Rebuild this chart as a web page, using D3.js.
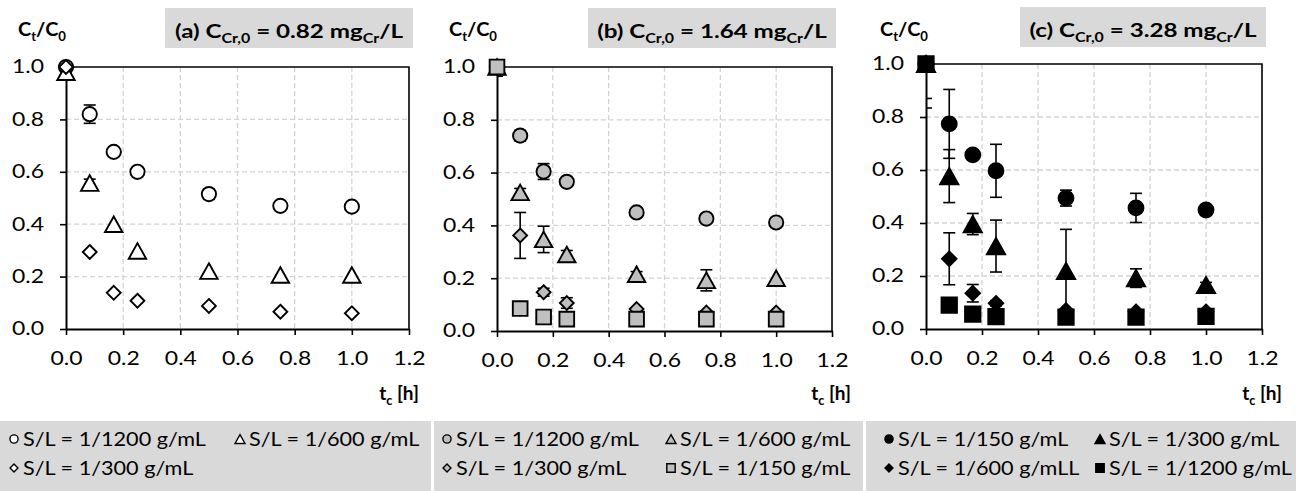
<!DOCTYPE html>
<html><head><meta charset="utf-8">
<script src="https://cdn.jsdelivr.net/npm/d3@7"></script>
<style>html,body{margin:0;padding:0;background:#fff;} svg{display:block}</style>
</head><body>
<svg id="chart" width="1296" height="491"></svg>
<script>
// Sampling times [h] and axis ticks
const times = [0, 0.083, 0.167, 0.25, 0.5, 0.75, 1.0];
const xTicks = [0, 0.2, 0.4, 0.6, 0.8, 1.0, 1.2];
const yTicks = [0, 0.2, 0.4, 0.6, 0.8, 1.0];
const xGrid = [0.2, 0.4, 0.6, 0.8, 1.0];
const yGrid = [0.2, 0.4, 0.6, 0.8];

// (a) C_Cr,0 = 0.82 mg/L
const a1200 = [1.0, 0.82, 0.676, 0.60, 0.515, 0.47, 0.467];
const a1200Err = [0, 0.035, 0, 0, 0.02, 0, 0];
const a600 = [0.98, 0.557, 0.40, 0.298, 0.221, 0.206, 0.206];
const a600Err = [0.025, 0.015, 0, 0, 0, 0, 0];
const a300 = [1.0, 0.294, 0.138, 0.108, 0.088, 0.066, 0.06];
const a300Err = [0, 0, 0, 0, 0, 0, 0];

// (b) C_Cr,0 = 1.64 mg/L
const b1200 = [1.0, 0.74, 0.604, 0.565, 0.449, 0.426, 0.411];
const b1200Err = [0, 0.02, 0.03, 0, 0, 0, 0];
const b600 = [1.0, 0.525, 0.347, 0.29, 0.215, 0.192, 0.20];
const b600Err = [0.035, 0.015, 0.05, 0.015, 0.01, 0.04, 0];
const b300 = [1.0, 0.362, 0.147, 0.106, 0.083, 0.07, 0.07];
const b300Err = [0, 0.087, 0.015, 0.02, 0, 0, 0];
const b150 = [1.0, 0.085, 0.053, 0.045, 0.045, 0.045, 0.045];
const b150Err = [0, 0, 0, 0, 0, 0, 0];

// (c) C_Cr,0 = 3.28 mg/L
const c150 = [1.0, 0.774, 0.657, 0.597, 0.494, 0.457, 0.449];
const c150Err = [0.13, 0.13, 0.01, 0.1, 0.03, 0.055, 0];
const c300 = [1.0, 0.577, 0.396, 0.313, 0.219, 0.192, 0.166];
const c300Err = [0.166, 0.1, 0.04, 0.098, 0.157, 0.035, 0.01];
const c600 = [1.0, 0.265, 0.135, 0.097, 0.07, 0.065, 0.065];
const c600Err = [0, 0.098, 0.033, 0.01, 0, 0, 0];
const c1200 = [1.0, 0.09, 0.056, 0.047, 0.045, 0.045, 0.048];
const c1200Err = [0, 0, 0, 0, 0, 0, 0];

const FONT = "Lato, 'Open Sans', sans-serif";
const BOX = "#d9d9d9";
// font size and horizontal stretch per text role
const FS_TICK = 18.5, SX_TICK = 1.24;
const FS_TITLE = 19.5, SX_TITLE = 1.24;
const FS_YLAB = 19, SX_YLAB = 1.05;
const FS_XLAB = 19, SX_XLAB = 1.0;
const FS_LEG = 19, SX_LEG = 1.14;

const panels = [
  {
    title: ["(a) C", {sub: "Cr,0"}, " = 0.82 mg", {sub: "Cr"}, "/L"],
    titleBox: [165, 8, 248, 40],
    yLabelX: 18, xLabelRight: 419,
    plot: {x0: 66, x1: 409, y0: 67, y1: 329},
    fill: "#ffffff", scale: 1.05,
    legendBox: [0, 421, 431, 70],
    series: [
      {label: "S/L = 1/1200 g/mL", shape: "circle", values: a1200, err: a1200Err, lx: 14, row: 0},
      {label: "S/L = 1/600 g/mL", shape: "triangle", values: a600, err: a600Err, lx: 240, row: 0},
      {label: "S/L = 1/300 g/mL", shape: "diamond", values: a300, err: a300Err, lx: 14, row: 1}
    ]
  },
  {
    title: ["(b) C", {sub: "Cr,0"}, " = 1.64 mg", {sub: "Cr"}, "/L"],
    titleBox: [588, 8, 248, 40],
    yLabelX: 449, xLabelRight: 851,
    plot: {x0: 497, x1: 832, y0: 67, y1: 331},
    fill: "#bfbfbf", scale: 1.05,
    legendBox: [434, 421, 429, 70],
    series: [
      {label: "S/L = 1/1200 g/mL", shape: "circle", values: b1200, err: b1200Err, lx: 447, row: 0},
      {label: "S/L = 1/600 g/mL", shape: "triangle", values: b600, err: b600Err, lx: 671, row: 0},
      {label: "S/L = 1/300 g/mL", shape: "diamond", values: b300, err: b300Err, lx: 447, row: 1},
      {label: "S/L = 1/150 g/mL", shape: "square", values: b150, err: b150Err, lx: 671, row: 1}
    ]
  },
  {
    title: ["(c) C", {sub: "Cr,0"}, " = 3.28 mg", {sub: "Cr"}, "/L"],
    titleBox: [1020, 7, 246, 40],
    yLabelX: 880, xLabelRight: 1282,
    plot: {x0: 926, x1: 1262, y0: 64, y1: 329},
    fill: "#000000", scale: 1.1,
    legendBox: [866, 421, 430, 70],
    series: [
      {label: "S/L = 1/150 g/mL", shape: "circle", values: c150, err: c150Err, lx: 889, row: 0},
      {label: "S/L = 1/300 g/mL", shape: "triangle", values: c300, err: c300Err, lx: 1100, row: 0},
      {label: "S/L = 1/600 g/mLL", shape: "diamond", values: c600, err: c600Err, lx: 889, row: 1},
      {label: "S/L = 1/1200 g/mL", shape: "square", values: c1200, err: c1200Err, lx: 1100, row: 1}
    ]
  }
];

const svg = d3.select("#chart");

// Text with subscripts and a horizontal stretch
function richText(parent, x, y, parts, size, weight, anchor, sx) {
  const t = parent.append("text")
    .attr("transform", `translate(${x},${y}) scale(${sx},1)`)
    .attr("text-anchor", anchor)
    .style("font-family", FONT)
    .style("font-size", size + "px")
    .style("font-weight", weight)
    .attr("fill", "#000");
  const shift = size * 0.25;
  let down = false;
  parts.forEach(p => {
    if (typeof p === "string") {
      const s = t.append("tspan").text(p);
      if (down) { s.attr("dy", -shift); down = false; }
    } else {
      t.append("tspan").text(p.sub)
        .attr("dy", down ? 0 : shift)
        .style("font-size", (size * 0.66) + "px");
      down = true;
    }
  });
  return t;
}

// Marker outline for each shape, centred on (0,0)
function shapePath(shape, k) {
  const p = d3.path();
  if (shape === "circle") {
    const r = 6.8 * k;
    p.moveTo(r, 0); p.arc(0, 0, r, 0, 2 * Math.PI);
  } else if (shape === "triangle") {
    const w = 8.3 * k, h = 7.4 * k;
    p.moveTo(0, -h); p.lineTo(w, h); p.lineTo(-w, h); p.closePath();
  } else if (shape === "diamond") {
    const r = 6.6 * k;
    p.moveTo(0, -r); p.lineTo(r, 0); p.lineTo(0, r); p.lineTo(-r, 0); p.closePath();
  } else {
    const s = 7 * k;
    p.rect(-s, -s, 2 * s, 2 * s);
  }
  return p.toString();
}

panels.forEach((pn, pi) => {
  const g = svg.append("g");
  const {x0, x1, y0, y1} = pn.plot;
  const x = d3.scaleLinear().domain([0, 1.2]).range([x0, x1]);
  const y = d3.scaleLinear().domain([0, 1.0]).range([y1, y0]);

  // title box
  const tb = pn.titleBox;
  g.append("rect").attr("x", tb[0]).attr("y", tb[1]).attr("width", tb[2]).attr("height", tb[3]).attr("fill", BOX);
  richText(g, tb[0] + tb[2] / 2, tb[1] + 30, pn.title, FS_TITLE, 700, "middle", SX_TITLE);

  // y-axis title
  richText(g, pn.yLabelX, 36, ["C", {sub: "t"}, "/C", {sub: "0"}], FS_YLAB, 700, "start", SX_YLAB);

  // grid
  g.append("g").selectAll("line").data(xGrid).join("line")
    .attr("x1", d => x(d)).attr("x2", d => x(d)).attr("y1", y0).attr("y2", y1)
    .attr("stroke", "#d4d4d4").attr("stroke-width", 1.3).attr("stroke-dasharray", "5,3");
  g.append("g").selectAll("line").data(yGrid).join("line")
    .attr("x1", x0).attr("x2", x1).attr("y1", d => y(d)).attr("y2", d => y(d))
    .attr("stroke", "#d4d4d4").attr("stroke-width", 1.3).attr("stroke-dasharray", "5,3");

  // error bars, clipped to the plot area
  const clipId = "clip" + pi;
  g.append("clipPath").attr("id", clipId).append("rect")
    .attr("x", x0).attr("y", y0).attr("width", x1 - x0).attr("height", y1 - y0);
  const eg = g.append("g").attr("clip-path", `url(#${clipId})`);
  pn.series.forEach(s => {
    const pts = times.map((t, i) => ({t, v: s.values[i], e: s.err[i]})).filter(d => d.e > 0);
    pts.forEach(d => {
      const cx = x(d.t);
      eg.append("line").attr("x1", cx).attr("x2", cx).attr("y1", y(d.v + d.e)).attr("y2", y(d.v - d.e))
        .attr("stroke", "#000").attr("stroke-width", 1.6);
      [d.v + d.e, d.v - d.e].forEach(v => {
        eg.append("line").attr("x1", cx - 6).attr("x2", cx + 6).attr("y1", y(v)).attr("y2", y(v))
          .attr("stroke", "#000").attr("stroke-width", 1.6);
      });
    });
  });

  // frame (top and right)
  g.append("path").attr("d", `M${x0},${y0}H${x1}V${y1}`).attr("fill", "none").attr("stroke", "#000").attr("stroke-width", 1.6);

  // axes
  const ya = g.append("g").attr("transform", `translate(${x0},0)`)
    .call(d3.axisLeft(y).tickValues(yTicks).tickFormat(d3.format(".1f")).tickSize(6).tickSizeOuter(0));
  const xa = g.append("g").attr("transform", `translate(0,${y1})`)
    .call(d3.axisBottom(x).tickValues(xTicks).tickFormat(d3.format(".1f")).tickSize(6).tickSizeOuter(0));
  [ya, xa].forEach(a => {
    a.select(".domain").attr("stroke", "#000").attr("stroke-width", 2);
    a.selectAll(".tick line").attr("stroke", "#000").attr("stroke-width", 1.6);
    a.selectAll("text").style("font-family", FONT).style("font-size", FS_TICK + "px").attr("fill", "#000");
  });
  ya.selectAll("text").attr("x", -22 / SX_TICK).attr("transform", `scale(${SX_TICK},1)`);
  xa.selectAll("text").attr("y", 23).attr("transform", `scale(${SX_TICK},1)`);

  // x-axis title
  richText(g, pn.xLabelRight, 400, ["t", {sub: "c"}, " [h]"], FS_XLAB, 700, "end", SX_XLAB);

  // markers
  pn.series.forEach(s => {
    g.append("g").selectAll("path").data(times.map((t, i) => ({t, v: s.values[i]}))).join("path")
      .attr("d", shapePath(s.shape, pn.scale))
      .attr("transform", d => `translate(${x(d.t)},${y(d.v)})`)
      .attr("fill", pn.fill).attr("stroke", "#000").attr("stroke-width", 1.9);
  });

  // legend
  const lb = pn.legendBox;
  g.append("rect").attr("x", lb[0]).attr("y", lb[1]).attr("width", lb[2]).attr("height", lb[3]).attr("fill", BOX);
  pn.series.forEach(s => {
    const ly = s.row === 0 ? 439 : 468;
    g.append("path").attr("d", shapePath(s.shape, 0.6))
      .attr("transform", `translate(${s.lx},${ly})`)
      .attr("fill", pn.fill).attr("stroke", "#000").attr("stroke-width", 1.4);
    richText(g, s.lx + 9, ly + 7, [s.label], FS_LEG, 400, "start", SX_LEG);
  });
});
</script>
</body></html>
